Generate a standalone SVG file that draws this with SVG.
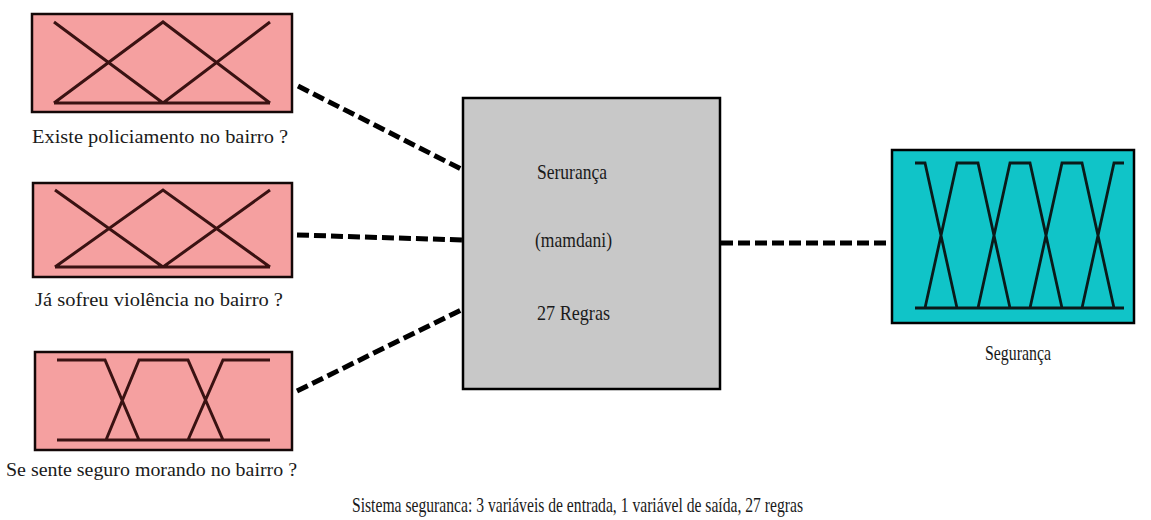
<svg xmlns="http://www.w3.org/2000/svg" width="1151" height="520" viewBox="0 0 1151 520">
<style>
.t{font-family:"Liberation Serif","Times New Roman",serif;font-size:19.5px;fill:#1a1a1a}
.tb{font-size:21px}
.pink{fill:#f5a0a0;stroke:#140808;stroke-width:2.5}
.mf{fill:none;stroke:#3a1212;stroke-width:3;stroke-linejoin:miter}
.mfo{fill:none;stroke:#0a1a1a;stroke-width:2.8}
.conn{fill:none;stroke:#000;stroke-width:5;stroke-dasharray:12 5}
</style>
<rect width="1151" height="520" fill="#fff"/>
<g id="connectors">
<line class="conn" x1="298" y1="86" x2="463" y2="170"/>
<line class="conn" x1="297" y1="235" x2="463" y2="240"/>
<line class="conn" x1="297" y1="391" x2="463" y2="309"/>
<line class="conn" x1="721" y1="243" x2="889" y2="243"/>
</g>
<g id="input1">
<rect class="pink" x="32" y="14" width="260" height="98"/>
<path class="mf" d="M54 22 L163 103 M54 103 L163 22 L270 103 M163 103 L270 22 M54 103 L270 103"/>
<text class="t" x="32" y="143" textLength="256" lengthAdjust="spacingAndGlyphs">Existe policiamento no bairro ?</text>
</g>
<g id="input2">
<rect class="pink" x="33" y="183" width="259" height="94"/>
<path class="mf" d="M55 190 L163 267 M55 267 L163 190 L270 267 M163 267 L270 190 M55 267 L270 267"/>
<text class="t" x="35" y="306" textLength="248" lengthAdjust="spacingAndGlyphs">Já sofreu violência no bairro ?</text>
</g>
<g id="input3">
<rect class="pink" x="35" y="352" width="257" height="98"/>
<path class="mf" d="M57 360 L105 360 L139 440 M106 440 L139 360 L188 360 L223 440 M188 440 L223 360 L270 360 M57 440 L270 440"/>
<text class="t" x="6" y="476" textLength="291" lengthAdjust="spacingAndGlyphs">Se sente seguro morando no bairro ?</text>
</g>
<g id="engine">
<rect x="463" y="98" width="257" height="291" fill="#c8c8c8" stroke="#000" stroke-width="2.5"/>
<text class="t tb" x="537" y="179" textLength="70" lengthAdjust="spacingAndGlyphs">Serurança</text>
<text class="t tb" x="535" y="247" textLength="77" lengthAdjust="spacingAndGlyphs">(mamdani)</text>
<text class="t tb" x="537" y="320" textLength="73" lengthAdjust="spacingAndGlyphs">27 Regras</text>
</g>
<g id="output">
<rect x="892" y="150" width="242" height="173" fill="#10c4c8" stroke="#000" stroke-width="2.5"/>
<path class="mfo" d="M915 163 L925 163 L957 308 M925 308 L957 163 L978 163 L1010 308 M978 308 L1010 163 L1030 163 L1062 308 M1030 308 L1062 163 L1082 163 L1114 308 M1082 308 L1114 163 L1124 163 M915 308 L1124 308"/>
<text class="t tb" x="985" y="360" textLength="66" lengthAdjust="spacingAndGlyphs">Segurança</text>
</g>
<text class="t tb" x="352" y="512" textLength="451" lengthAdjust="spacingAndGlyphs">Sistema seguranca: 3 variáveis de entrada, 1 variável de saída, 27 regras</text>
</svg>
